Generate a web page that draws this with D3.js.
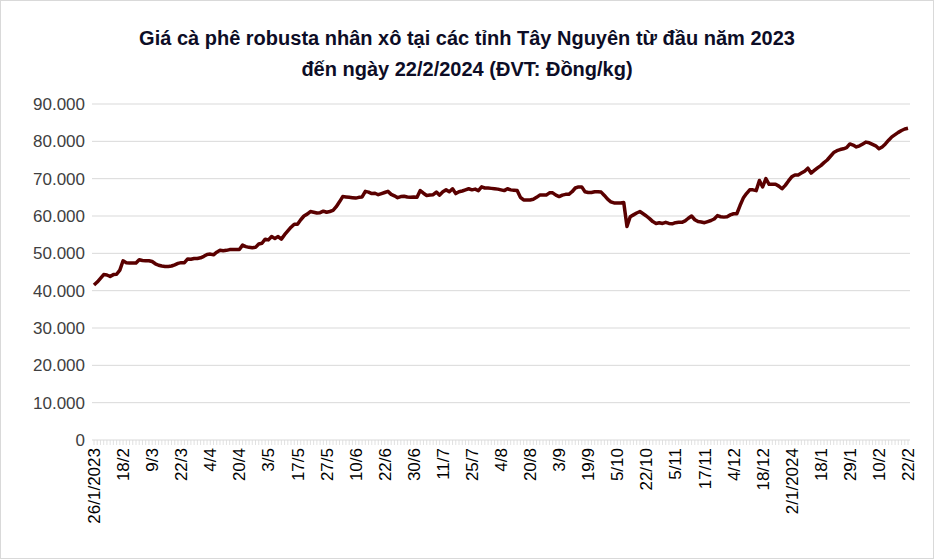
<!DOCTYPE html><html><head><meta charset="utf-8">
<script src="https://cdn.jsdelivr.net/npm/d3@7"></script>
<style>body{margin:0;background:#fff}svg{display:block}</style></head><body>
<svg id="c" width="934" height="559"></svg>
<script>
const tickLabels=["26/1/2023","18/2","9/3","22/3","4/4","20/4","3/5","17/5","27/5","10/6","22/6","30/6","11/7","25/7","4/8","20/8","3/9","19/9","5/10","22/10","5/11","17/11","4/12","18/12","2/1/2024","18/1","29/1","10/2","22/2"];
const values=[
41.5,42.3,43.3,44.3,44.2,43.8,44.3,44.4,45.5,
48.0,47.5,47.4,47.4,47.4,48.3,48.1,48.0,48.0,
47.8,47.2,46.8,46.6,46.5,46.5,46.6,46.9,47.3,
47.5,47.5,48.5,48.4,48.6,48.6,48.8,49.2,49.7,
49.8,49.6,50.3,50.8,50.7,50.8,51.0,51.0,51.0,
51.0,52.2,51.8,51.6,51.5,51.6,52.5,52.7,53.8,
53.6,54.5,54.0,54.5,53.8,55.0,56.0,57.0,57.8,
57.8,59.0,60.0,60.5,61.2,61.0,60.8,60.9,61.3,
61.0,61.2,61.5,62.5,63.8,65.2,65.1,65.0,64.9,
64.8,65.0,65.1,66.6,66.4,66.0,66.1,65.7,66.0,
66.3,66.6,65.8,65.4,64.9,65.2,65.3,65.1,65.0,
65.1,65.0,66.8,66.1,65.5,65.6,65.7,66.4,65.6,
66.5,67.0,66.5,67.3,66.0,66.5,66.7,67.0,67.3,
67.0,67.2,66.8,67.8,67.5,67.5,67.4,67.3,67.2,
67.0,66.8,67.3,67.0,66.9,66.8,65.0,64.3,64.3,
64.3,64.5,65.0,65.6,65.6,65.6,66.2,66.2,65.6,
65.2,65.6,65.8,65.8,66.5,67.5,67.8,67.8,66.5,
66.3,66.3,66.5,66.5,66.4,65.5,64.5,63.8,63.5,
63.5,63.5,63.6,57.2,59.8,60.3,60.8,61.2,60.6,
60.0,59.3,58.5,58.0,58.2,58.0,58.3,58.0,57.9,
58.2,58.3,58.3,58.7,59.4,60.0,59.0,58.5,58.4,
58.2,58.5,58.8,59.2,60.1,59.8,59.7,59.8,60.3,
60.6,60.6,62.8,64.8,66.0,67.0,67.0,66.8,69.5,
67.8,70.0,68.5,68.5,68.5,68.0,67.3,68.2,69.4,
70.5,71.0,71.0,71.5,72.0,72.8,71.5,72.2,72.9,
73.5,74.3,75.0,76.0,77.0,77.5,77.8,78.0,78.3,
79.3,79.0,78.5,78.8,79.3,79.8,79.6,79.2,78.8,
78.0,78.5,79.3,80.3,81.2,81.8,82.4,82.9,83.3,83.5].map(v=>v*1000);
const yTicks=[0,10000,20000,30000,40000,50000,60000,70000,80000,90000];
const FONT="'Liberation Sans', Arial, sans-serif";
const svg=d3.select("#c");
svg.append("rect").attr("x",0.5).attr("y",0.5).attr("width",933).attr("height",558).attr("fill","#fff").attr("stroke","#d9d9d9");
const L=92,R=910,T=104,B=440;
const x=d3.scaleLinear().domain([0,values.length-1]).range([L+2,R-2]);
const y=d3.scaleLinear().domain([0,90000]).range([B,T]);
const g=svg.append("g");
yTicks.forEach(t=>{
  if(t>0) g.append("line").attr("x1",L).attr("x2",R).attr("y1",y(t)).attr("y2",y(t)).attr("stroke","#d9d9d9").attr("stroke-width",1);
  g.append("text").attr("x",85).attr("y",y(t)).attr("dy","0.35em").attr("text-anchor","end")
   .attr("font-family",FONT).attr("font-size",17).attr("fill","#404040")
   .text(t===0?"0":d3.format(".3f")(t/1000));
});
g.append("line").attr("x1",L).attr("x2",R).attr("y1",B).attr("y2",B).attr("stroke","#d9d9d9");
values.forEach((v,i)=>{g.append("line").attr("x1",x(i)).attr("x2",x(i)).attr("y1",B).attr("y2",B+5).attr("stroke","#d9d9d9").attr("stroke-width",0.8);});
tickLabels.forEach((t,k)=>{
  const xi=x(k*9);
  g.append("text").attr("transform",`translate(${xi+6},448) rotate(-90)`).attr("text-anchor","end")
   .attr("font-family",FONT).attr("font-size",17).attr("fill","#000").text(t);
});
g.append("path").datum(values).attr("fill","none").attr("stroke","#5a0000").attr("stroke-width",3.5).attr("stroke-linejoin","round")
 .attr("d",d3.line().x((d,i)=>x(i)).y(d=>y(d)));
const ttl=svg.append("text").attr("text-anchor","middle").attr("font-family",FONT).attr("font-weight","bold").attr("font-size",20).attr("fill","#0d0d26");
ttl.append("tspan").attr("x",467).attr("y",45).text("Giá cà phê robusta nhân xô tại các tỉnh Tây Nguyên từ đầu năm 2023");
ttl.append("tspan").attr("x",467).attr("y",76).text("đến ngày 22/2/2024 (ĐVT: Đồng/kg)");
</script></body></html>
